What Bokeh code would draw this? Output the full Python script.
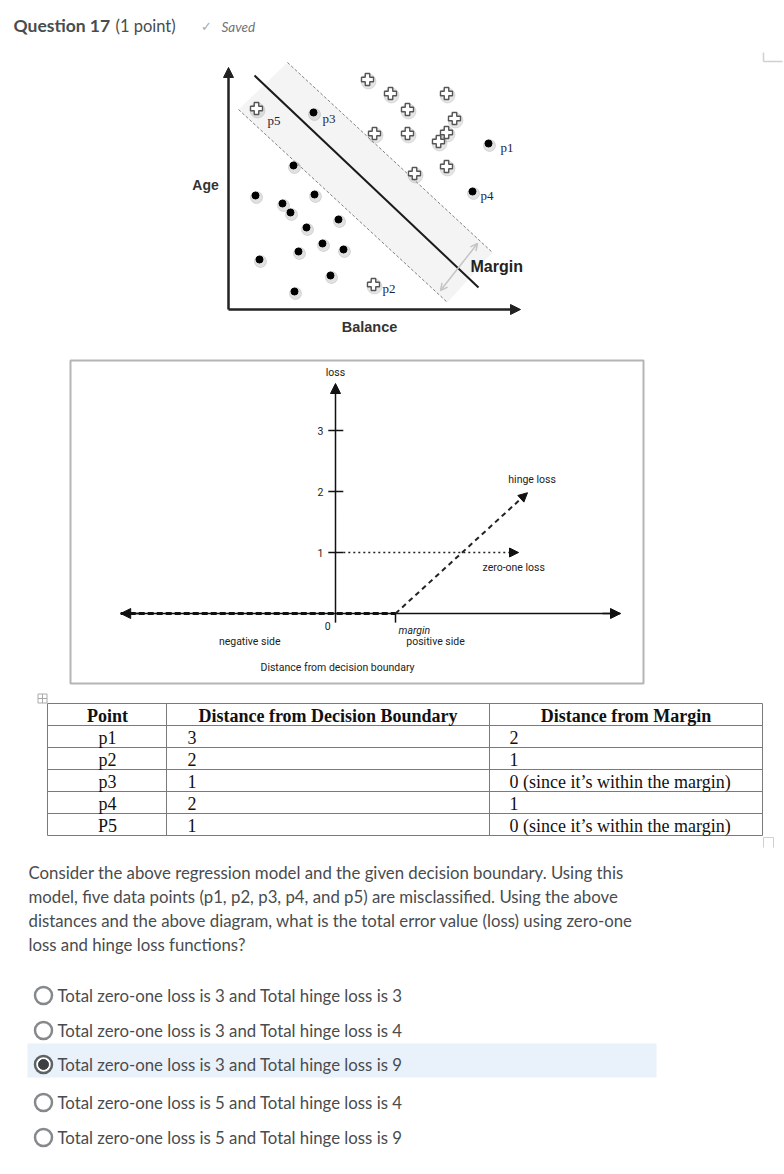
from bokeh.plotting import figure
from bokeh.models import Range1d, Arrow, NormalHead, OpenHead
from bokeh.core.properties import value
from bokeh.embed import file_html
from bokeh.resources import INLINE

# ---------------- data ----------------
# scatter diagram (units: balance, age)
neg_x = [2.7, 5.4, 6.2, 8.6, 7.8, 11.0, 9.4, 7.0, 11.5, 3.1, 10.2, 6.6, 6.5]
neg_y = [11.4, 10.6, 9.7, 11.5, 8.2, 9.0, 6.6, 5.8, 6.0, 5.0, 3.4, 1.8, 14.4]
pos_x = [13.9, 16.2, 21.8, 17.9, 22.6, 14.6, 17.9, 21.8, 21.0, 21.8, 18.6]
pos_y = [23.0, 21.6, 21.6, 20.0, 19.1, 17.6, 17.6, 17.7, 16.8, 14.3, 13.6]
mis_names = ["p1", "p2", "p3", "p4", "p5"]
mis_x = [26.0, 14.5, 8.5, 24.4, 2.8]
mis_y = [16.6, 2.5, 19.7, 11.8, 20.1]
mis_kind = ["dot", "plus", "dot", "dot", "plus"]
boundary_x = [2.6, 25.0]
boundary_y = [23.4, 2.2]
upper_x = [5.9, 26.4]
upper_y = [24.7, 5.7]
lower_x = [1.0, 21.9]
lower_y = [20.0, 0.7]
margin_arrow_x = [21.2, 24.9]
margin_arrow_y = [1.9, 6.6]
balance_max = 29.2
age_max = 24.2

# loss diagram (units: distance, loss)
loss_ticks = [1, 2, 3]
dist_min, dist_max = -3.58, 4.75
loss_top = 3.77
margin_d = 1.0
zero_one_x = [0.13, 3.05]
zero_one_y = [1, 1]
hinge_flat_x = [-3.58, 1.0]
hinge_flat_y = [0, 0]
hinge_rise_x = [1.0, 3.2]
hinge_rise_y = [0, 1.98]

# table
tbl_header = ["Point", "Distance from Decision Boundary", "Distance from Margin"]
points = ["p1", "p2", "p3", "p4", "P5"]
dist_boundary = ["3", "2", "1", "2", "1"]
dist_margin = ["2", "1", "0 (since it\u2019s within the margin)", "1",
               "0 (since it\u2019s within the margin)"]

question = ["Consider the above regression model and the given decision boundary. Using this",
            "model, five data points (p1, p2, p3, p4, and p5) are misclassified. Using the above",
            "distances and the above diagram, what is the total error value (loss) using zero-one",
            "loss and hinge loss functions?"]
options = ["Total zero-one loss is 3 and Total hinge loss is 3",
           "Total zero-one loss is 3 and Total hinge loss is 4",
           "Total zero-one loss is 3 and Total hinge loss is 9",
           "Total zero-one loss is 5 and Total hinge loss is 4",
           "Total zero-one loss is 5 and Total hinge loss is 9"]
selected = 2

# ---------------- figure ----------------
W, H = 784, 1174
p = figure(width=W, height=H, x_range=Range1d(0, W), y_range=Range1d(H, 0),
           output_backend="svg", toolbar_location=None, min_border=0,
           x_axis_location=None, y_axis_location=None)
p.grid.visible = False
p.outline_line_color = None
p.background_fill_color = "white"

# scatter panel: origin at pixel (228, 309), 10 px per unit; loss panel: origin (335, 613)
p.extra_x_ranges = {"sx": Range1d((0 - 228) / 10, (W - 228) / 10),
                    "lx": Range1d((0 - 335) / 60, (W - 335) / 60)}
p.extra_y_ranges = {"sy": Range1d((309 - H) / 10, (309 - 0) / 10),
                    "ly": Range1d((613 - H) / 61, (613 - 0) / 61)}
S = dict(x_range_name="sx", y_range_name="sy")
L = dict(x_range_name="lx", y_range_name="ly")

TXT = "#494c4e"


def txt(x, y, s, size, font="Lato", style="normal", color=TXT, align="left",
        baseline="middle", **kw):
    p.text(x=[x], y=[y], text=[s], text_font=value(font), text_font_size=f"{size}px",
           text_font_style=style, text_color=color, text_align=align,
           text_baseline=baseline, **kw)


# header
txt(13, 25, "Question 17", 17.5, style="bold")
txt(115, 25, "(1 point)", 16.5)
txt(206, 26, "\u2713", 13, font="DejaVu Sans", color="#a5a9ac", align="center")
txt(221, 26, "Saved", 13.5, style="italic", color="#6e7376")
p.segment(x0=[763, 763], y0=[52, 61], x1=[763, 782], y1=[61, 61], line_color="#d0d0d0", line_width=1.5)

# ---------- scatter diagram ----------
p.patch(x=[upper_x[0], upper_x[1], lower_x[1], lower_x[0]],
        y=[upper_y[0], upper_y[1], lower_y[1], lower_y[0]],
        fill_color="#f4f4f4", line_color=None, **S)
p.line(upper_x, upper_y, line_color="#808080", line_width=1, line_dash="3 2", **S)
p.line(lower_x, lower_y, line_color="#808080", line_width=1, line_dash="3 2", **S)
p.line(boundary_x, boundary_y, line_color="#1a1a1a", line_width=2, **S)
p.add_layout(Arrow(start=OpenHead(size=7, line_color="#c4c4c4", line_width=1.5),
                   end=OpenHead(size=7, line_color="#c4c4c4", line_width=1.5),
                   x_start=margin_arrow_x[0], y_start=margin_arrow_y[0],
                   x_end=margin_arrow_x[1], y_end=margin_arrow_y[1],
                   line_color="#c4c4c4", line_width=1.5, **S))
# axes
p.add_layout(Arrow(end=NormalHead(size=10, fill_color="#222", line_color="#222"),
                   x_start=0, y_start=0, x_end=0, y_end=age_max,
                   line_color="#222", line_width=2.5, **S))
p.add_layout(Arrow(end=NormalHead(size=10, fill_color="#222", line_color="#222"),
                   x_start=0, y_start=0, x_end=balance_max, y_end=0,
                   line_color="#222", line_width=2.5, **S))

dot_x = neg_x + [x for x, k in zip(mis_x, mis_kind) if k == "dot"]
dot_y = neg_y + [y for y, k in zip(mis_y, mis_kind) if k == "dot"]
plus_x = pos_x + [x for x, k in zip(mis_x, mis_kind) if k == "plus"]
plus_y = pos_y + [y for y, k in zip(mis_y, mis_kind) if k == "plus"]
p.scatter([x + 0.1 for x in dot_x], [y - 0.2 for y in dot_y], size=12, color="#888", alpha=0.25, **S)
p.scatter(dot_x, dot_y, size=7, color="black", **S)
p.scatter([x + 0.1 for x in plus_x], [y - 0.2 for y in plus_y], size=15, color="#888", alpha=0.22, **S)
p.scatter(plus_x, plus_y, marker="plus", size=12, fill_color="white", line_color="#555",
          line_width=1.4, **S)

lbl_dx = [1.2, 0.9, 0.9, 0.8, 1.1]
lbl_dy = [-0.4, -0.4, -0.6, -0.4, -1.2]
for n, x, y, dx, dy in zip(mis_names, mis_x, mis_y, lbl_dx, lbl_dy):
    txt(x + dx, y + dy, n, 13, font="Liberation Serif", color="#1c2340", **S)

txt(205, 184, "Age", 14, font="Liberation Sans", style="bold", color="#333", align="center")
txt(369, 326, "Balance", 14.5, font="Liberation Sans", style="bold", color="#333", align="center")
txt(470, 266, "Margin", 16, font="Liberation Sans", style="bold", color="#222")

# ---------- loss diagram ----------
p.quad(left=70, right=643, top=360, bottom=683, fill_color=None, line_color="#b5b5b5", line_width=2)
NF = "Roboto"
FS = 10.5
p.line([dist_min, dist_max], [0, 0], line_color="#111", line_width=1.5, **L)
p.add_layout(Arrow(end=NormalHead(size=10, fill_color="#111", line_color="#111"),
                   x_start=dist_max - 0.3, y_start=0, x_end=dist_max, y_end=0,
                   line_color="#111", line_width=1.5, **L))
p.add_layout(Arrow(end=NormalHead(size=10, fill_color="#111", line_color="#111"),
                   x_start=dist_min + 0.3, y_start=0, x_end=dist_min, y_end=0,
                   line_color="#111", line_width=1.5, **L))
p.add_layout(Arrow(end=NormalHead(size=10, fill_color="#111", line_color="#111"),
                   x_start=0, y_start=-0.15, x_end=0, y_end=loss_top,
                   line_color="#111", line_width=1.5, **L))
p.segment(x0=[-0.12] * 3, x1=[0.13] * 3, y0=loss_ticks, y1=loss_ticks,
          line_color="#111", line_width=1.5, **L)
for t in loss_ticks:
    txt(-0.2, t, str(t), FS, font=NF, color="#222", align="right", **L)
txt(-0.13, -0.2, "0", FS, font=NF, color="#222", align="center", **L)
txt(0, 3.95, "loss", FS, font=NF, color="#222", align="center", **L)
# zero-one loss
p.line(zero_one_x, zero_one_y, line_color="#222", line_width=1.5, line_dash="2 3", **L)
p.add_layout(Arrow(end=NormalHead(size=9, fill_color="#111", line_color="#111"),
                   x_start=zero_one_x[1] - 0.05, y_start=1, x_end=zero_one_x[1], y_end=1,
                   line_width=1, **L))
# hinge loss
p.line(hinge_flat_x, hinge_flat_y, line_color="#111", line_width=3, line_dash="6 3", **L)
p.line(hinge_rise_x, hinge_rise_y, line_color="#222", line_width=2, line_dash="5 4", **L)
p.add_layout(Arrow(end=NormalHead(size=9, fill_color="#111", line_color="#111"),
                   x_start=hinge_rise_x[1] - 0.05, y_start=hinge_rise_y[1] - 0.045,
                   x_end=hinge_rise_x[1], y_end=hinge_rise_y[1], line_width=1, **L))
p.segment(x0=[margin_d], x1=[margin_d], y0=[0], y1=[-0.15], line_color="#111", line_width=1.5, **L)
txt(margin_d + 0.05, -0.17, "margin", FS, font=NF, style="italic", color="#222",
    baseline="top", **L)
txt(margin_d + 0.18, -0.46, "positive side", FS, font=NF, color="#222", **L)
txt(-1.43, -0.46, "negative side", FS, font=NF, color="#222", align="center", **L)
txt(-1.25, -0.885, "Distance from decision boundary", FS, font=NF, color="#222", **L)
txt(2.88, 2.2, "hinge loss", FS, font=NF, color="#222", **L)
txt(2.45, 0.75, "zero-one loss", FS, font=NF, color="#222", **L)

# ---------- table ----------
p.scatter([42], [698], marker="square_cross", size=9, fill_color=None, line_color="#aaa")
row_lines = [703, 725, 747, 769, 791, 813, 835]
col_lines = [47, 166, 489, 762]
p.segment(x0=[47] * len(row_lines), x1=[762] * len(row_lines), y0=row_lines, y1=row_lines,
          line_color="#7a7a7a", line_width=1)
p.segment(x0=col_lines, x1=col_lines, y0=[703] * 4, y1=[835] * 4, line_color="#7a7a7a", line_width=1)
p.segment(x0=[763, 763, 773], x1=[773, 763, 773], y0=[837, 837, 837], y1=[837, 847, 847],
          line_color="#cfcfcf", line_width=1)
SF = "Liberation Serif"
TS = 18
txt(107, 715, tbl_header[0], TS, font=SF, style="bold", color="#111", align="center")
txt(327.5, 715, tbl_header[1], TS, font=SF, style="bold", color="#111", align="center")
txt(625.5, 715, tbl_header[2], TS, font=SF, style="bold", color="#111", align="center")
for i, (a, b, c) in enumerate(zip(points, dist_boundary, dist_margin)):
    yy = 737 + 22 * i
    txt(107, yy, a, TS, font=SF, color="#111", align="center")
    txt(187, yy, b, TS, font=SF, color="#111")
    txt(509, yy, c, TS, font=SF, color="#111")

# ---------- question ----------
for i, line in enumerate(question):
    txt(28, 872 + 24 * i, line, 16.8)

p.quad(left=27, right=656, top=1043, bottom=1077, fill_color="#e9f1fb", line_color=None)
opt_y = [995, 1030, 1064, 1102, 1137]
for i, (o, yy) in enumerate(zip(options, opt_y)):
    ring = "#5e6265" if i == selected else "#85898c"
    p.scatter([43], [yy], size=17, fill_color="white", line_color=ring, line_width=2.5)
    if i == selected:
        p.scatter([43], [yy], size=10, color="#3d3f41")
    txt(57, yy, o, 16.8)

open("out.html", "w").write(file_html(p, INLINE))
